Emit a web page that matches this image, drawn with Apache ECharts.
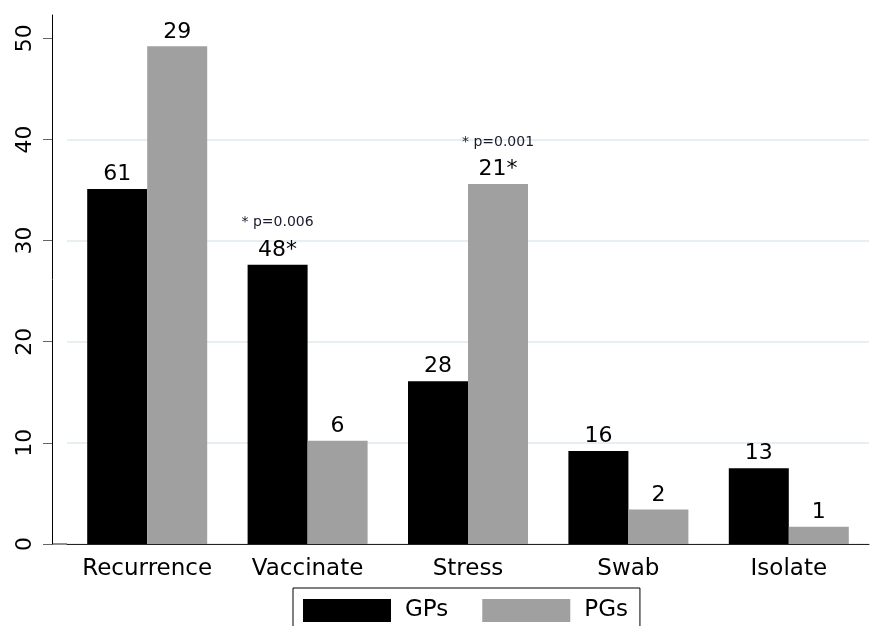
<!DOCTYPE html>
<html>
<head>
<meta charset="utf-8">
<script src="https://cdn.jsdelivr.net/npm/echarts@6/dist/echarts.min.js"></script>
<style>
    html, body { margin: 0; padding: 0; background: #fff; }
    #chart { width: 873px; height: 626px; }
</style>
</head>
<body>
<div id="chart"></div>
<script>
    // data (percent of respondents), labels are counts
    var categories = ['Recurrence', 'Vaccinate', 'Stress', 'Swab', 'Isolate']
    var gpValues = [35.1, 27.6, 16.1, 9.2, 7.5]
    var pgValues = [49.2, 10.2, 35.6, 3.4, 1.7]
    var gpLabels = ['61', '48*', '28', '16', '13']
    var pgLabels = ['29', '6', '21*', '2', '1']
    var gpNotes = ['', '* p=0.006', '', '', '']
    var pgNotes = ['', '', '* p=0.001', '', '']
    var yTicks = [0, 10, 20, 30, 40, 50]

    var font = 'DejaVu Sans'

    // label = optional p-value note on top of the count
    function makeLabel(labels, notes) {
        return function (p) {
            var note = notes[p.dataIndex]
            var txt = '{b|' + labels[p.dataIndex] + '}'
            return note ? '{s|' + note + '}\n' + txt : txt
        }
    }

    var labelStyle = {
        show: true,
        position: 'top',
        distance: 2,
        color: '#000',
        fontFamily: font,
        rich: {
            b: { fontSize: 22, fontFamily: font, color: '#000', lineHeight: 25 },
            s: { fontSize: 14, fontFamily: font, color: '#1a1a2e', lineHeight: 30 }
        }
    }

    var chart = echarts.init(document.getElementById('chart'))
    var option = {
        animation: false,
        backgroundColor: '#fff',
        textStyle: { fontFamily: font },
        grid: { left: 67, right: 4, top: 15, bottom: 82 },
        legend: {
            left: 293,
            top: 588,
            orient: 'horizontal',
            icon: 'rect',
            itemWidth: 88,
            itemHeight: 23,
            itemGap: 34,
            padding: [11, 12, 10, 10],
            borderColor: '#000',
            borderWidth: 1,
            backgroundColor: '#fff',
            textStyle: { fontSize: 23, fontFamily: font, color: '#000', padding: [2, 0, 0, 9] },
            data: ['GPs', 'PGs']
        },
        xAxis: {
            type: 'category',
            data: categories,
            axisLine: { lineStyle: { color: '#222', width: 1 } },
            axisTick: { show: false },
            axisLabel: { interval: 0, fontSize: 23, fontFamily: font, color: '#000', margin: 14 }
        },
        yAxis: {
            type: 'value',
            min: 0,
            max: 52.3,
            interval: 10,
            offset: 15,
            axisLine: { show: true, lineStyle: { color: '#000', width: 1 } },
            axisTick: { show: true, length: 9, customValues: yTicks, lineStyle: { color: '#666' } },
            axisLabel: {
                customValues: yTicks,
                rotate: 90,
                fontSize: 22,
                fontFamily: font,
                color: '#000',
                margin: 16
            },
            splitLine: { show: true, showMaxLine: false, lineStyle: { color: '#e8eff2', width: 2 } }
        },
        series: [
            {
                name: 'GPs',
                type: 'bar',
                data: gpValues,
                barWidth: 60,
                barGap: '0%',
                itemStyle: { color: '#000' },
                label: Object.assign({}, labelStyle, { formatter: makeLabel(gpLabels, gpNotes) })
            },
            {
                name: 'PGs',
                type: 'bar',
                data: pgValues,
                barWidth: 60,
                barGap: '0%',
                itemStyle: { color: '#a0a0a0' },
                label: Object.assign({}, labelStyle, { formatter: makeLabel(pgLabels, pgNotes) })
            }
        ]
    }
    chart.setOption(option)

    // x axis line reaches back to the offset y axis
    var y0 = chart.convertToPixel({ yAxisIndex: 0 }, 0)
    chart.setOption({
        graphic: [{
            type: 'line',
            shape: { x1: 52, y1: y0, x2: 67, y2: y0 },
            style: { stroke: '#222', lineWidth: 1 }
        }]
    })
</script>
</body>
</html>
